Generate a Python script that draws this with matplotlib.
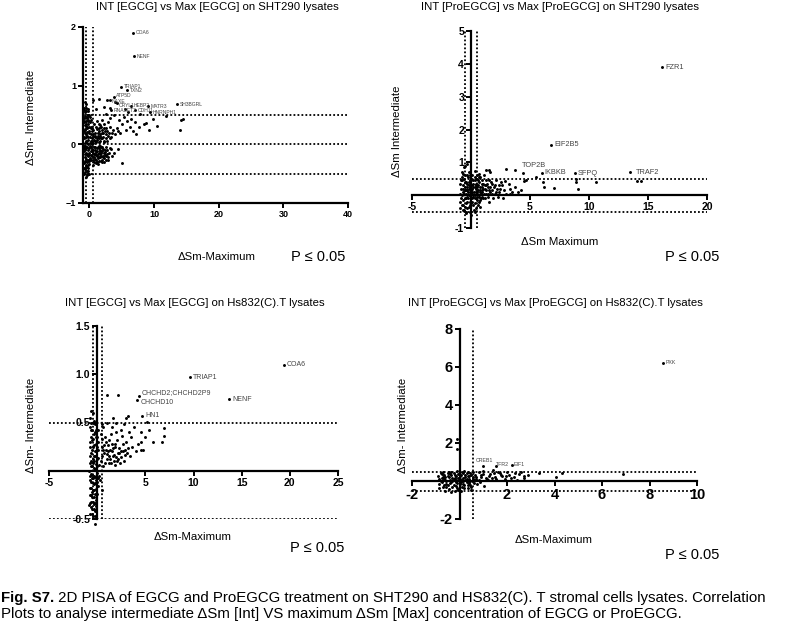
import matplotlib
matplotlib.use("Agg")
import matplotlib.pyplot as plt
import matplotlib.ticker as mticker
import numpy as np

plt.rcParams["font.family"] = ["Liberation Sans", "DejaVu Sans"]

W, H = 787, 623

# ---------------------------------------------------------------------------
# Data
# ---------------------------------------------------------------------------
# Panel 1: INT [EGCG] vs Max [EGCG], SHT290
p1_labels = ["COA6", "NENF", "TRIAP1", "TXN2", "ATP5D", "NAXE", "CRYL1",
             "HEBP2", "MATR3", "RNASET2", "CDH11", "HNRNPH1", "SH3BGRL"]
p1_lab_x = [6.7, 6.9, 4.9, 5.8, 3.75, 3.2, 4.2, 6.4, 9.1, 3.3, 7.1, 9.3, 13.6]
p1_lab_y = [1.9, 1.5, 0.98, 0.92, 0.81, 0.75, 0.70, 0.66, 0.65, 0.58, 0.58, 0.55, 0.68]
p1_pts = [
    (-0.85, 0.62), (-0.7, 0.55), (-0.6, 0.68), (-0.8, 0.45), (-0.5, 0.4), (-0.3, 0.5),
    (-0.75, 0.33), (-0.45, 0.28), (-0.2, 0.35), (-0.85, 0.22), (-0.6, 0.18), (-0.35, 0.15),
    (-0.1, 0.22), (-0.8, 0.1), (-0.55, 0.05), (-0.25, 0.08), (0.05, 0.12), (-0.7, -0.02),
    (-0.4, -0.05), (-0.15, 0.0), (0.15, -0.03), (-0.85, -0.12), (-0.6, -0.15), (-0.3, -0.1),
    (0.0, -0.14), (-0.75, -0.22), (-0.5, -0.25), (-0.2, -0.2), (0.1, -0.24), (-0.85, -0.32),
    (-0.6, -0.35), (-0.35, -0.3), (-0.05, -0.33), (-0.7, -0.42), (-0.45, -0.45), (-0.2, -0.4),
    (-0.8, -0.5), (-0.55, -0.55), (-0.3, -0.5), (-0.65, 0.26), (-0.4, 0.45), (-0.15, 0.42),
    (-0.9, 0.38), (-0.5, 0.12), (0.2, 0.05), (0.3, 0.18), (-0.65, -0.08), (-0.1, -0.26),
    (0.25, -0.12), (-0.9, -0.02), (-0.4, -0.38), (0.0, 0.3), (-0.25, 0.6), (-0.55, 0.62),
    (-0.75, 0.72), (-0.1, 0.5), (-0.45, -0.18), (-0.15, -0.46), (0.1, 0.38), (-0.6, 0.35),
    (-0.82, 0.58), (-0.48, 0.57), (-0.18, 0.56), (-0.65, 0.48), (-0.35, 0.47), (0.05, 0.46),
    (-0.88, 0.4), (-0.25, 0.39), (0.2, 0.41), (-0.55, 0.31), (-0.32, 0.29), (0.28, 0.28),
    (-0.72, 0.2), (-0.42, 0.21), (-0.02, 0.19), (0.4, 0.22), (-0.88, 0.13), (-0.2, 0.12),
    (0.35, 0.1), (-0.62, 0.03), (-0.38, 0.02), (0.08, 0.02), (0.45, 0.0), (-0.82, -0.06),
    (-0.52, -0.07), (-0.05, -0.06), (-0.72, -0.17), (-0.38, -0.16), (-0.1, -0.18),
    (-0.62, -0.28), (-0.28, -0.27), (0.0, -0.29), (-0.82, -0.4), (-0.52, -0.39),
    (-0.28, -0.36), (-0.62, -0.48), (-0.38, -0.52), (-0.08, -0.5),
    (0.3, -0.05), (0.6, -0.1), (0.9, -0.04), (1.2, -0.12), (1.5, -0.06), (1.8, -0.15),
    (2.1, -0.08), (2.4, -0.18), (2.7, -0.1), (0.4, -0.2), (0.8, -0.25), (1.1, -0.2),
    (1.4, -0.28), (1.7, -0.22), (2.0, -0.27), (2.3, -0.24), (2.6, -0.2), (3.0, -0.15),
    (0.5, -0.15), (1.0, -0.13), (1.6, -0.16), (2.2, -0.14), (0.7, -0.3), (1.3, -0.33),
    (1.9, -0.3), (0.2, -0.27), (2.8, -0.26), (1.45, -0.02), (0.95, -0.18), (2.5, -0.05),
    (3.3, -0.08), (3.5, -0.2), (0.55, -0.36), (1.65, -0.1), (1.15, -0.07), (2.05, -0.2),
    (0.35, -0.12), (0.75, -0.22), (1.85, -0.05), (2.9, -0.22),
    (0.45, -0.08), (0.65, -0.17), (0.85, -0.1), (1.05, -0.27), (1.25, -0.17), (1.35, -0.05),
    (1.55, -0.22), (1.75, -0.28), (1.95, -0.12), (2.15, -0.22), (2.35, -0.1), (2.55, -0.27),
    (2.75, -0.16), (0.55, -0.27), (0.95, -0.32), (1.45, -0.14), (1.85, -0.2), (2.25, -0.3),
    (0.25, -0.19), (0.65, -0.04), (1.15, -0.3), (1.6, -0.03), (2.0, -0.04), (2.45, -0.13),
    (3.1, -0.06), (0.8, -0.16), (1.25, -0.24), (1.7, -0.12),
    (0.4, 0.05), (0.8, 0.12), (1.2, 0.08), (1.6, 0.18), (2.0, 0.1), (2.4, 0.22),
    (2.8, 0.15), (3.2, 0.3), (0.6, 0.25), (1.0, 0.3), (1.4, 0.22), (1.8, 0.3),
    (2.2, 0.35), (2.6, 0.28), (3.0, 0.2), (3.6, 0.25), (0.5, 0.15), (0.9, 0.2),
    (1.3, 0.14), (1.7, 0.06), (2.1, 0.2), (2.5, 0.1), (3.4, 0.12), (4.0, 0.18),
    (0.7, 0.35), (1.1, 0.4), (1.5, 0.34), (1.9, 0.42), (2.3, 0.05), (2.9, 0.38),
    (0.3, 0.3), (1.2, 0.26), (4.4, 0.22), (0.85, 0.05), (1.55, 0.1),
    (0.5, 0.02), (0.7, 0.08), (0.9, 0.14), (1.1, 0.1), (1.3, 0.2), (1.5, 0.27),
    (1.7, 0.14), (1.9, 0.2), (2.1, 0.12), (2.3, 0.28), (2.5, 0.18), (2.7, 0.22),
    (0.6, 0.18), (1.0, 0.04), (1.4, 0.04), (1.8, 0.1), (2.2, 0.04), (2.65, 0.06),
    (3.1, 0.1), (0.45, 0.28), (1.65, 0.33), (2.0, 0.25),
    (2.5, 0.52), (3.2, 0.45), (3.8, 0.5), (4.5, 0.42), (5.0, 0.35), (5.3, 0.47),
    (5.8, 0.4), (6.2, 0.3), (6.5, 0.44), (7.0, 0.38), (7.6, 0.30), (8.4, 0.34),
    (8.8, 0.36), (9.9, 0.44), (11.9, 0.48), (4.2, 0.28), (4.8, 0.2), (5.6, 0.25),
    (6.8, 0.22), (7.2, 0.18), (3.5, 0.2), (9.2, 0.25), (10.5, 0.32), (14.2, 0.41),
    (14.4, 0.44), (14.0, 0.25), (3.85, -0.15), (5.1, -0.31), (4.4, -0.08), (3.2, 0.62),
    (2.3, 0.63), (1.5, 0.77), (2.76, 0.75), (4.0, 0.72), (5.5, 0.6), (6.0, 0.55),
    (7.8, 0.52), (0.5, 0.75), (1.0, 0.6),
]

# Panel 2: INT [ProEGCG] vs Max [ProEGCG], SHT290
p2_labels = ["FZR1", "EIF2B5", "TOP2B", "IKBKB", "SFPQ", "TRAF2"]
p2_lab_x = [16.2, 6.8, 4.4, 6.0, 8.8, 13.5]
p2_lab_y = [3.9, 1.53, 0.69, 0.69, 0.67, 0.72]
p2_pts = [
    (-0.9, 0.05), (-0.7, 0.2), (-0.5, -0.1), (-0.3, 0.35), (-0.1, 0.1), (0.1, -0.2),
    (0.3, 0.25), (0.5, 0.05), (0.7, 0.4), (0.9, -0.05), (-0.8, -0.3), (-0.6, 0.5),
    (-0.4, 0.15), (-0.2, -0.35), (0.0, 0.45), (0.2, 0.0), (0.4, -0.4), (0.6, 0.3),
    (0.8, 0.15), (1.0, 0.2), (-0.9, 0.35), (-0.7, -0.15), (-0.5, 0.6), (-0.3, -0.05),
    (-0.1, -0.5), (0.1, 0.6), (0.3, -0.1), (0.5, 0.5), (0.7, -0.2), (1.1, 0.05),
    (-0.8, 0.7), (-0.6, -0.45), (-0.4, 0.4), (-0.2, 0.2), (0.0, -0.25), (0.2, 0.35),
    (0.4, 0.1), (0.6, -0.3), (0.8, 0.55), (1.2, 0.3), (-0.85, -0.1), (-0.65, 0.1),
    (-0.45, -0.25), (-0.25, 0.55), (-0.05, 0.25), (0.15, -0.05), (0.35, 0.45), (0.55, -0.15),
    (0.75, 0.1), (0.95, 0.35), (-0.75, 0.45), (-0.55, 0.25), (-0.35, -0.2), (-0.15, 0.7),
    (0.05, 0.05), (0.25, -0.45), (0.45, 0.2), (0.65, 0.65), (0.85, -0.1), (1.3, 0.15),
    (-0.95, -0.4), (-0.6, 0.85), (-0.3, 0.15), (0.0, -0.6), (0.3, 0.75), (0.6, 0.15),
    (0.9, 0.25), (-0.4, -0.55), (0.1, 0.3), (-0.2, 0.0),
    (-0.85, 0.2), (-0.75, 0.0), (-0.65, -0.3), (-0.55, 0.4), (-0.45, 0.05), (-0.35, 0.25),
    (-0.25, -0.1), (-0.15, 0.4), (-0.05, -0.3), (0.05, 0.2), (0.15, 0.45), (0.25, 0.1),
    (0.35, -0.25), (0.45, 0.35), (0.55, 0.1), (0.65, -0.05), (0.75, 0.25), (0.85, 0.05),
    (0.95, 0.15), (1.05, 0.35), (-0.8, 0.55), (-0.7, 0.3), (-0.6, 0.05), (-0.5, -0.35),
    (-0.4, -0.1), (-0.3, 0.6), (-0.2, 0.3), (-0.1, -0.2), (0.0, 0.15), (0.1, -0.1),
    (0.2, -0.3), (0.3, 0.55), (0.4, 0.3), (0.5, -0.05), (0.6, 0.45), (0.7, 0.0),
    (0.8, -0.15), (0.9, 0.45), (1.0, -0.1), (1.15, 0.2), (-0.9, -0.2), (-0.7, -0.45),
    (-0.5, 0.15), (-0.3, -0.4), (-0.1, 0.6), (0.1, 0.1), (0.3, 0.0), (0.5, 0.25),
    (0.7, 0.55), (0.9, 0.1), (-0.85, 0.45), (-0.65, 0.65), (-0.45, -0.5), (-0.25, 0.1),
    (-0.05, 0.45), (0.15, 0.25), (0.35, -0.5), (0.55, 0.6), (0.75, -0.35),
    (1.25, 0.05), (1.35, 0.35), (1.5, 0.15), (1.65, 0.25), (1.75, 0.05), (1.95, 0.25),
    (2.15, 0.1), (1.55, 0.45), (2.05, 0.3), (2.45, 0.2), (1.4, -0.05),
    (1.2, -0.1), (1.4, 0.25), (1.6, 0.1), (1.8, 0.35), (2.0, 0.05), (2.2, 0.2),
    (2.4, 0.1), (2.6, 0.3), (2.8, 0.15), (3.0, 0.05), (1.5, -0.2), (1.9, -0.1),
    (2.3, -0.05), (1.3, 0.45), (1.7, 0.4), (2.1, 0.45), (2.5, 0.4), (2.9, 0.42),
    (3.3, 0.2), (3.5, 0.1), (1.1, 0.6), (1.6, 0.7), (1.45, 0.05), (2.7, -0.1),
    (3.2, 0.35), (3.7, 0.25), (4.0, 0.1), (1.8, 0.15), (2.35, 0.3), (1.25, 0.3),
    (3.0, 0.81), (3.7, 0.76), (1.3, 0.78), (1.5, 0.77), (14.1, 0.44), (14.4, 0.44),
    (8.9, 0.5), (8.9, 0.4), (9.1, 0.2), (10.6, 0.41), (7.0, 0.23), (6.2, 0.25),
    (6.1, 0.4), (4.5, 0.42), (4.7, 0.45), (4.2, 0.16), (3.3, 0.05), (5.5, 0.55),
    (-0.3, 0.95), (-0.5, 0.9),
]

# Panel 3: INT [EGCG] vs Max [EGCG], Hs832(C).T
p3_labels = ["COA6", "TRIAP1", "NENF", "CHCHD2;CHCHD2P9", "CHCHD10", "HN1"]
p3_lab_x = [19.4, 9.6, 13.7, 4.3, 4.1, 4.7]
p3_lab_y = [1.10, 0.97, 0.74, 0.77, 0.73, 0.57]
p3_pts = [
    (-0.7, 0.55), (-0.4, 0.6), (-0.2, 0.48), (-0.6, 0.42), (-0.3, 0.38), (0.0, 0.35),
    (-0.7, 0.3), (-0.45, 0.25), (-0.15, 0.28), (0.1, 0.22), (-0.65, 0.18), (-0.35, 0.15),
    (-0.05, 0.12), (-0.75, 0.08), (-0.5, 0.05), (-0.2, 0.02), (0.15, 0.06), (-0.6, -0.03),
    (-0.3, -0.05), (0.0, -0.02), (-0.7, -0.1), (-0.45, -0.13), (-0.15, -0.1), (-0.6, -0.18),
    (-0.3, -0.2), (0.05, -0.16), (-0.75, -0.25), (-0.5, -0.27), (-0.2, -0.24), (-0.65, -0.32),
    (-0.35, -0.34), (-0.1, -0.3), (-0.55, -0.4), (-0.25, -0.42), (-0.7, -0.45), (-0.4, -0.47),
    (-0.6, 0.1), (-0.25, 0.2), (-0.5, 0.32), (-0.1, 0.42), (-0.8, 0.0), (-0.4, -0.08),
    (0.2, -0.05), (-0.55, -0.22), (-0.15, -0.37), (-0.8, -0.36), (-0.3, 0.1), (0.1, 0.3),
    (-0.6, 0.62), (-0.45, 0.5),
    (-0.75, 0.45), (-0.5, 0.42), (-0.25, 0.4), (0.05, 0.42), (-0.65, 0.35), (-0.4, 0.33),
    (-0.15, 0.35), (-0.75, 0.25), (-0.55, 0.22), (-0.3, 0.27), (0.0, 0.25), (-0.7, 0.15),
    (-0.45, 0.12), (-0.2, 0.15), (0.1, 0.13), (-0.6, 0.05), (-0.35, 0.03), (-0.05, 0.05),
    (-0.75, -0.05), (-0.5, -0.04), (-0.2, -0.06), (0.1, -0.08), (-0.6, -0.12), (-0.35, -0.14),
    (-0.05, -0.12), (-0.75, -0.18), (-0.45, -0.2), (-0.15, -0.19), (-0.6, -0.25), (-0.35, -0.27),
    (-0.05, -0.24), (-0.7, -0.33), (-0.45, -0.32), (-0.2, -0.33), (-0.6, -0.38), (-0.35, -0.4),
    (-0.1, -0.41), (-0.5, -0.45), (-0.25, -0.47), (-0.65, 0.5), (-0.3, 0.52), (-0.1, 0.2),
    (-0.4, 0.08), (-0.55, -0.07), (-0.25, -0.13), (-0.1, 0.07),
    (0.4, 0.1), (0.7, 0.18), (1.0, 0.12), (1.3, 0.22), (1.6, 0.15), (1.9, 0.25),
    (2.2, 0.12), (2.5, 0.2), (2.8, 0.1), (3.1, 0.18), (0.5, 0.25), (0.9, 0.3),
    (1.2, 0.08), (1.5, 0.28), (1.8, 0.06), (2.1, 0.32), (2.4, 0.08), (2.7, 0.28),
    (3.0, 0.3), (3.4, 0.15), (0.6, 0.05), (1.1, 0.2), (1.7, 0.1), (2.3, 0.18),
    (0.8, 0.35), (1.4, 0.38), (2.0, 0.4), (2.6, 0.36), (3.6, 0.25), (4.0, 0.2),
    (0.35, 0.38), (1.25, 0.15), (1.95, 0.14), (2.9, 0.22), (4.5, 0.3), (4.8, 0.22),
    (3.3, 0.4), (0.6, 0.45), (1.0, 0.5), (1.5, 0.45), (-0.2, -0.55), (0.3, -0.1),
    (0.5, -0.2),
    (0.45, 0.15), (0.65, 0.22), (0.85, 0.08), (1.05, 0.17), (1.15, 0.27), (1.35, 0.12),
    (1.55, 0.2), (1.75, 0.16), (1.85, 0.28), (2.05, 0.1), (2.25, 0.24), (2.45, 0.14),
    (2.65, 0.2), (0.75, 0.27), (1.45, 0.08), (0.95, 0.22), (2.15, 0.18), (1.65, 0.24),
    (0.55, 0.33), (1.25, 0.32), (2.85, 0.16), (3.2, 0.24),
    (2.2, 0.79), (1.0, 0.79), (3.2, 0.57), (0.5, 0.48), (6.9, 0.44), (6.9, 0.36),
    (6.7, 0.30), (5.2, 0.51), (5.4, 0.42), (5.0, 0.35), (4.5, 0.40), (3.8, 0.45),
    (3.5, 0.35), (2.8, 0.48), (4.2, 0.28), (5.8, 0.3), (4.6, 0.22), (3.0, 0.55),
    (2.0, 0.5), (1.6, 0.55), (2.5, 0.42),
]

# Panel 4: INT [ProEGCG] vs Max [ProEGCG], Hs832(C).T
p4_labels = ["PXK", "CREB1", "TFR2", "EIF1"]
p4_lab_x = [8.56, 0.98, 1.52, 2.2]
p4_lab_y = [6.23, 0.81, 0.81, 0.84]
p4_pts = [
    (-0.8, 0.0), (-0.6, 0.2), (-0.4, -0.1), (-0.2, 0.3), (0.0, 0.1), (0.2, -0.2),
    (0.4, 0.25), (0.6, 0.05), (-0.7, -0.3), (-0.5, 0.4), (-0.3, 0.15), (-0.1, -0.35),
    (0.1, 0.45), (0.3, -0.05), (0.5, -0.3), (-0.75, 0.35), (-0.55, -0.15), (-0.35, 0.5),
    (-0.15, 0.05), (0.05, -0.5), (0.25, 0.3), (0.45, 0.4), (-0.65, 0.1), (-0.45, -0.4),
    (-0.25, -0.2), (-0.05, 0.35), (0.15, 0.15), (0.35, -0.35), (0.55, 0.2), (-0.85, -0.15),
    (-0.6, -0.5), (-0.4, 0.05), (-0.2, -0.5), (0.0, -0.15), (0.2, 0.55), (0.4, -0.1),
    (-0.7, 0.5), (-0.3, -0.3), (0.1, -0.3), (0.3, 0.1), (-0.5, 0.25), (-0.1, 0.55),
    (0.5, -0.45), (-0.9, 0.25), (0.65, 0.3), (-0.35, -0.6), (0.15, 0.0), (-0.15, 0.25),
    (-0.55, 0.0), (0.35, 0.5),
    (-0.85, 0.1), (-0.75, -0.05), (-0.65, 0.3), (-0.55, -0.3), (-0.45, 0.2), (-0.35, -0.05),
    (-0.25, 0.4), (-0.15, -0.25), (-0.05, 0.15), (0.05, 0.3), (0.15, -0.15), (0.25, 0.05),
    (0.35, 0.25), (0.45, -0.2), (0.55, 0.1), (-0.8, 0.4), (-0.7, 0.2), (-0.6, 0.05),
    (-0.5, -0.2), (-0.4, 0.35), (-0.3, 0.0), (-0.2, 0.15), (-0.1, -0.1), (0.0, 0.25),
    (0.1, 0.05), (0.2, -0.35), (0.3, 0.4), (0.4, 0.1), (0.5, 0.3), (0.6, -0.1),
    (-0.85, -0.35), (-0.65, -0.2), (-0.45, 0.5), (-0.25, 0.1), (-0.05, -0.45), (0.15, 0.4),
    (0.35, -0.2), (0.55, 0.45), (-0.75, 0.15), (-0.35, 0.3), (0.05, -0.05), (0.25, 0.2),
    (-0.15, -0.05), (0.45, 0.0),
    (0.7, 0.2), (0.8, 0.05), (0.9, 0.2), (1.0, 0.35), (1.15, 0.1), (1.25, 0.25),
    (1.45, 0.4), (1.55, 0.1), (1.75, 0.3), (1.95, 0.25), (2.15, 0.15), (2.35, 0.4),
    (0.85, -0.05), (1.35, 0.15),
    (0.7, 0.1), (0.9, 0.3), (1.1, 0.15), (1.3, 0.35), (1.5, 0.2), (1.7, 0.4),
    (1.9, 0.1), (2.1, 0.3), (2.3, 0.2), (2.5, 0.35), (2.7, 0.15), (0.8, 0.45),
    (1.2, 0.05), (1.6, 0.5), (2.0, 0.45), (2.4, 0.05), (1.0, 0.55), (1.4, 0.6),
    (1.8, 0.25), (2.6, 0.45), (0.75, -0.15), (1.05, -0.25), (2.9, 0.3), (3.35, 0.44),
    (2.7, 0.28), (4.05, 0.23), (4.33, 0.44), (6.9, 0.37), (-0.12, 1.67), (-0.1, 2.2),
]

# ---------------------------------------------------------------------------
# Helpers
# ---------------------------------------------------------------------------
def box(l, t, r, b):
    return [l / W, 1 - b / H, (r - l) / W, (b - t) / H]


def hide_zero(v, pos):
    return "" if abs(v) < 1e-9 else f"{v:g}"


def dotted(ax, xs=(), ys=()):
    for x in xs:
        ax.axvline(x, color="black", lw=1.3, ls=(0, (1, 1.2)), zorder=1)
    for y in ys:
        ax.axhline(y, color="black", lw=1.3, ls=(0, (1, 1.2)), zorder=1)


def style(ax, tick_fs, at_zero=True):
    for s in ("top", "right"):
        ax.spines[s].set_visible(False)
    for s in ("left", "bottom"):
        ax.spines[s].set_linewidth(1.6)
        if at_zero:
            ax.spines[s].set_position(("data", 0))
    ax.tick_params(direction="out", length=3.5, width=1.4, labelsize=tick_fs, pad=1.5)
    for lab in ax.get_xticklabels() + ax.get_yticklabels():
        lab.set_fontweight("bold")


def scatter(ax, pts, lx, ly, names, fs, offsets=None):
    xs = [p[0] for p in pts]
    ys = [p[1] for p in pts]
    ax.scatter(xs, ys, s=4.5, c="black", linewidths=0, zorder=3, clip_on=False)
    ax.scatter(lx, ly, s=4.5, c="black", linewidths=0, zorder=3, clip_on=False)
    for x, y, n in zip(lx, ly, names):
        off = (2, 0) if offsets is None or n not in offsets else offsets[n]
        ax.annotate(n, (x, y), xytext=off, textcoords="offset points",
                    fontsize=fs, color="#444444", ha="left", va="center")


def ftext(x, y, s, **kw):
    return fig.text(x / W, 1 - y / H, s, **kw)


fig = plt.figure(figsize=(W / 100, H / 100), dpi=100)

# ---- Panel 1 -------------------------------------------------------------
ax1 = fig.add_axes(box(83, 27, 348, 203))
ax1.set_xlim(-1, 40)
ax1.set_ylim(-1, 2)
dotted(ax1, xs=(-0.5, 0.5), ys=(0.5, 0, -0.5))
scatter(ax1, p1_pts, p1_lab_x, p1_lab_y, p1_labels, 3.6,
        offsets={"NAXE": (1, -1), "CRYL1": (1.5, -1.5), "ATP5D": (1.5, 1)})
ax1.set_xticks([0, 10, 20, 30, 40])
ax1.set_yticks([-1, 0, 1, 2])
style(ax1, 6.5, at_zero=False)

# ---- Panel 2 -------------------------------------------------------------
ax2 = fig.add_axes(box(412, 31, 707, 228))
ax2.set_xlim(-5, 20)
ax2.set_ylim(-1, 5)
dotted(ax2, xs=(-0.5, 0.5), ys=(0.5, -0.5))
scatter(ax2, p2_pts, p2_lab_x, p2_lab_y, p2_labels, 5.3,
        offsets={"TOP2B": (-1, 5), "TRAF2": (4, -1)})
ax2.set_xticks([-5, 0, 5, 10, 15, 20])
ax2.set_yticks([-1, 0, 1, 2, 3, 4, 5])
ax2.xaxis.set_major_formatter(mticker.FuncFormatter(hide_zero))
ax2.yaxis.set_major_formatter(mticker.FuncFormatter(hide_zero))
style(ax2, 7.5)

# ---- Panel 3 -------------------------------------------------------------
ax3 = fig.add_axes(box(49, 326, 338, 519))
ax3.set_xlim(-5, 25)
ax3.set_ylim(-0.5, 1.5)
dotted(ax3, xs=(-0.4, 0.5), ys=(0.5, -0.5))
scatter(ax3, p3_pts, p3_lab_x, p3_lab_y, p3_labels, 5.0,
        offsets={"CHCHD2;CHCHD2P9": (2, 2.5), "CHCHD10": (3, -1.5)})
ax3.set_xticks([-5, 0, 5, 10, 15, 20, 25])
ax3.set_yticks([-0.5, 0, 0.5, 1.0, 1.5])
ax3.xaxis.set_major_formatter(mticker.FuncFormatter(hide_zero))
ax3.yaxis.set_major_formatter(mticker.FuncFormatter(
    lambda v, p: "" if abs(v) < 1e-9 else f"{v:.1f}"))
style(ax3, 7.5)

# ---- Panel 4 -------------------------------------------------------------
ax4 = fig.add_axes(box(412, 329, 697, 519))
ax4.set_xlim(-2, 10)
ax4.set_ylim(-2, 8)
dotted(ax4, xs=(0.55,), ys=(0.5, -0.5))
scatter(ax4, p4_pts, p4_lab_x, p4_lab_y, p4_labels, 3.8,
        offsets={"CREB1": (-5, 4), "TFR2": (0.5, 0.5), "EIF1": (1.5, 0.5)})
ax4.set_xticks([-2, 0, 2, 4, 6, 8, 10])
ax4.set_yticks([-2, 0, 2, 4, 6, 8])
ax4.xaxis.set_major_formatter(mticker.FuncFormatter(hide_zero))
ax4.yaxis.set_major_formatter(mticker.FuncFormatter(hide_zero))
style(ax4, 10.5)

# ---- Titles, axis labels --------------------------------------------------
tfs = 8.2
ftext(217, 7, "INT [EGCG] vs Max [EGCG] on SHT290 lysates", fontsize=tfs, ha="center", va="center")
ftext(560, 7, "INT [ProEGCG] vs Max [ProEGCG] on SHT290 lysates", fontsize=tfs, ha="center", va="center")
ftext(195, 303, "INT [EGCG] vs Max [EGCG] on Hs832(C).T lysates", fontsize=tfs, ha="center", va="center")
ftext(555, 303, "INT [ProEGCG] vs Max [ProEGCG] on Hs832(C).T lysates", fontsize=tfs, ha="center", va="center")

lfs = 8.2
ftext(217, 257, "\u0394Sm-Maximum", fontsize=lfs, ha="center", va="center")
ftext(560, 242, "\u0394Sm Maximum", fontsize=lfs, ha="center", va="center")
ftext(193, 537, "\u0394Sm-Maximum", fontsize=lfs, ha="center", va="center")
ftext(554, 540, "\u0394Sm-Maximum", fontsize=lfs, ha="center", va="center")

ftext(31, 117, "\u0394Sm- Intermediate", fontsize=lfs, ha="center", va="center", rotation=90)
ftext(397, 131, "\u0394Sm Intermediate", fontsize=lfs, ha="center", va="center", rotation=90)
ftext(31, 425, "\u0394Sm- Intermediate", fontsize=lfs, ha="center", va="center", rotation=90)
ftext(403, 425, "\u0394Sm- Intermediate", fontsize=lfs, ha="center", va="center", rotation=90)

pfs = 10.5
ftext(318, 257, "P \u2264 0.05", fontsize=pfs, ha="center", va="center")
ftext(692, 257, "P \u2264 0.05", fontsize=pfs, ha="center", va="center")
ftext(317, 548, "P \u2264 0.05", fontsize=pfs, ha="center", va="center")
ftext(692, 555, "P \u2264 0.05", fontsize=pfs, ha="center", va="center")

# ---- Caption --------------------------------------------------------------
cfs = 10.8
t_bold = ftext(1, 605, "Fig. S7.", fontsize=cfs, fontweight="bold", ha="left", va="bottom")
ax1.annotate(" 2D PISA of EGCG and ProEGCG treatment on SHT290 and HS832(C). T stromal "
             "cells lysates. Correlation", xy=(1, 0), xycoords=t_bold,
             fontsize=cfs, ha="left", va="bottom", annotation_clip=False)
ftext(1, 621, "Plots to analyse intermediate \u0394Sm [Int] VS maximum \u0394Sm [Max] "
      "concentration of EGCG or ProEGCG.", fontsize=cfs, ha="left", va="bottom")

fig.savefig("out.png", dpi=100, facecolor="white")
